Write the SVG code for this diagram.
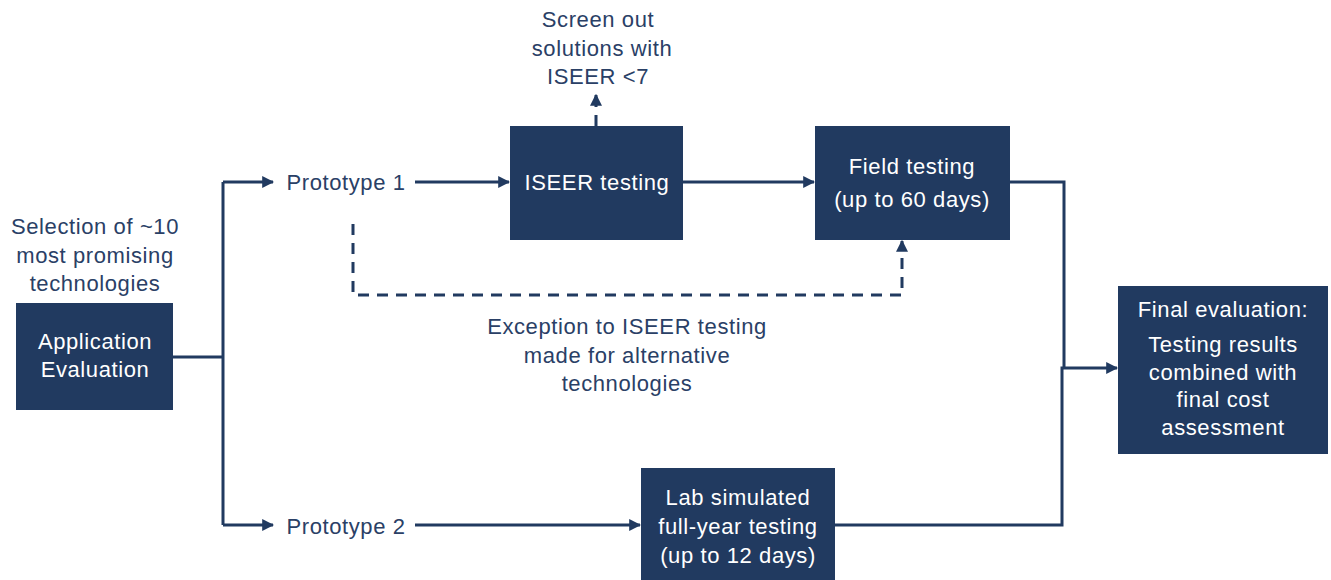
<svg xmlns="http://www.w3.org/2000/svg" width="1331" height="580" viewBox="0 0 1331 580">
<style>
.box{fill:#213a60;}
.wt{font-family:"Liberation Sans",Arial,sans-serif;font-size:22px;letter-spacing:0.6px;fill:#ffffff;text-anchor:middle;}
.lt{font-family:"Liberation Sans",Arial,sans-serif;font-size:22px;letter-spacing:0.6px;fill:#2a4066;text-anchor:middle;}
.ln{fill:none;stroke:#213a60;stroke-width:3;}
.dl{fill:none;stroke:#213a60;stroke-width:3;stroke-dasharray:11,8;}
</style>
<defs>
<marker id="ah" viewBox="0 0 10 10" refX="9" refY="5" markerWidth="4" markerHeight="4" orient="auto" markerUnits="strokeWidth">
<path d="M0,0 L10,5 L0,10 z" fill="#213a60"/>
</marker>
</defs>
<rect width="1331" height="580" fill="#ffffff"/>
<g id="connectors">
<path class="ln" d="M173,357 H223"/>
<path class="ln" d="M223,182 V525"/>
<path class="ln" d="M223,182 H273" marker-end="url(#ah)"/>
<path class="ln" d="M223,525 H273" marker-end="url(#ah)"/>
<path class="ln" d="M415,182 H509" marker-end="url(#ah)"/>
<path class="ln" d="M683,182 H814" marker-end="url(#ah)"/>
<path class="ln" d="M415,525 H640" marker-end="url(#ah)"/>
<path class="ln" d="M1010,182 H1064 V368"/>
<path class="ln" d="M835,525 H1062 V368 H1117" marker-end="url(#ah)"/>
<path class="dl" d="M596,126 V97"/>
<path class="ln" d="M596,100 V95" marker-end="url(#ah)"/>
<path class="dl" d="M353,224 V295 H902 V250"/>
<path class="ln" d="M902,250 V241" marker-end="url(#ah)"/>
</g>
<g id="selection-label">
<text class="lt" x="95" y="234">Selection of ~10</text>
<text class="lt" x="95" y="263">most promising</text>
<text class="lt" x="95" y="291">technologies</text>
</g>
<g id="application-evaluation">
<rect class="box" x="16" y="303" width="157" height="107"/>
<text class="wt" x="95" y="349">Application</text>
<text class="wt" x="95" y="377">Evaluation</text>
</g>
<g id="prototype-1">
<text class="lt" x="346" y="190">Prototype 1</text>
</g>
<g id="prototype-2">
<text class="lt" x="346" y="534">Prototype 2</text>
</g>
<g id="screen-out-label">
<text class="lt" x="598" y="27">Screen out</text>
<text class="lt" x="602" y="56">solutions with</text>
<text class="lt" x="598" y="84">ISEER &lt;7</text>
</g>
<g id="iseer-testing">
<rect class="box" x="510" y="126" width="173" height="114"/>
<text class="wt" x="597" y="190">ISEER testing</text>
</g>
<g id="field-testing">
<rect class="box" x="815" y="126" width="195" height="114"/>
<text class="wt" x="912" y="174">Field testing</text>
<text class="wt" x="912" y="207">(up to 60 days)</text>
</g>
<g id="exception-label">
<text class="lt" x="627" y="334">Exception to ISEER testing</text>
<text class="lt" x="627" y="363">made for alternative</text>
<text class="lt" x="627" y="391">technologies</text>
</g>
<g id="lab-testing">
<rect class="box" x="641" y="468" width="194" height="112"/>
<text class="wt" x="738" y="505">Lab simulated</text>
<text class="wt" x="738" y="534">full-year testing</text>
<text class="wt" x="738" y="563">(up to 12 days)</text>
</g>
<g id="final-evaluation">
<rect class="box" x="1118" y="286" width="210" height="168"/>
<text class="wt" x="1223" y="317">Final evaluation:</text>
<text class="wt" x="1223" y="352">Testing results</text>
<text class="wt" x="1223" y="380">combined with</text>
<text class="wt" x="1223" y="407">final cost</text>
<text class="wt" x="1223" y="435">assessment</text>
</g>
</svg>
